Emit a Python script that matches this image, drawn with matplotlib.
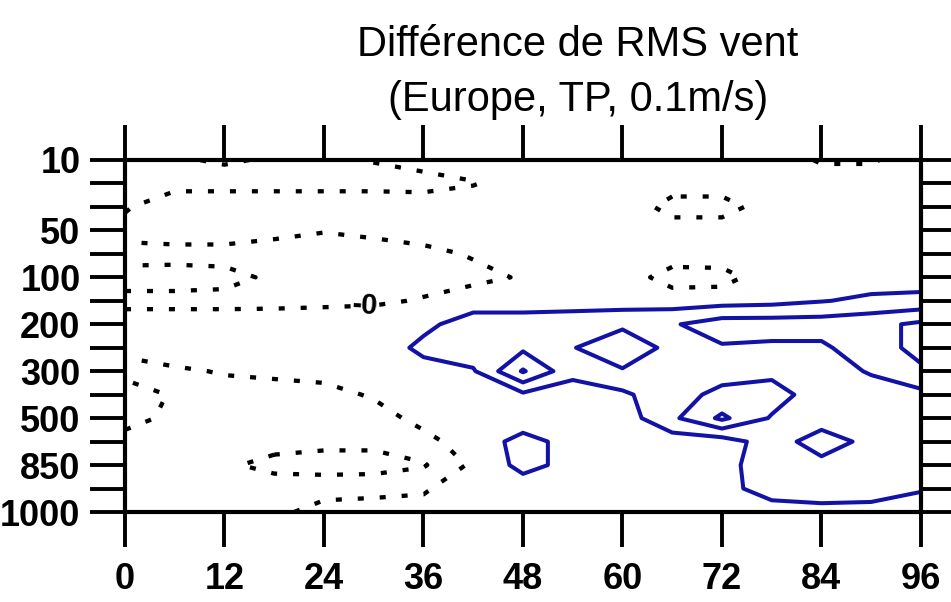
import numpy as np
import matplotlib
matplotlib.use("Agg")
import matplotlib.pyplot as plt

plt.rcParams['font.family'] = ['Liberation Sans', 'DejaVu Sans']

# Forecast lead times (hours) and pressure levels (hPa)
hours = [0, 6, 12, 18, 24, 30, 36, 42, 48, 54, 60, 66, 72, 78, 84, 90, 96]
pressure_levels = [10, 20, 30, 50, 70, 100, 150, 200, 250, 300, 400, 500, 700, 850, 925, 1000]
labelled_levels = [10, 50, 100, 200, 300, 500, 850, 1000]
hour_ticks = [0, 12, 24, 36, 48, 60, 72, 84, 96]

# RMS wind difference (units of 0.1 m/s): one row per pressure level, one column per lead time
p10 = [-0.6, -0.6, -0.4, -0.6, -0.7, -0.45, -0.2, -0.1, 0.0, 0.0, 0.0, 0.0, 0.0, 0.0, -0.6, -0.6, 0.0]
p20 = [-0.7, -0.8, -0.9, -0.9, -0.9, -0.9, -0.8, -0.55, -0.1, 0.0, 0.1, 0.0, 0.0, 0.1, 0.0, 0.0, 0.1]
p30 = [-0.6, 0.1, 0.3, 0.3, 0.3, 0.3, 0.0, 0.0, 0.2, 0.1, 0.2, -0.9, -0.9, 0.0, 0.1, 0.1, 0.1]
p50 = [-0.2, 0.1, 0.1, -0.2, -0.45, -0.3, 0.0, 0.2, 0.2, 0.2, 0.2, 0.0, 0.0, 0.1, 0.1, 0.1, 0.1]
p70 = [-0.8, -0.9, -0.9, -1.0, -1.0, -0.9, -0.8, -0.4, 0.0, 0.1, 0.1, 0.0, 0.1, 0.1, 0.1, 0.1, 0.0]
p100 = [-2.2, -2.2, -2.0, -1.2, -1.1, -1.0, -1.0, -0.8, -0.4, 0.0, 0.0, -0.9, -0.9, 0.1, 0.1, 0.0, 0.0]
p150 = [-1.0, -1.0, -1.0, -0.9, -0.8, -0.7, -0.4, 0.1, 0.0, 0.1, 0.0, 0.0, 0.1, 0.2, 0.45, 0.7, 0.8]
p200 = [0.4, 0.4, 0.4, 0.3, 0.3, 0.3, 0.3, 0.9, 1.0, 1.0, 1.3, 1.4, 2.0, 2.0, 2.0, 2.2, 2.7]
p250 = [0.0, 0.3, 0.3, 0.3, 0.3, 0.0, 0.7, 1.1, 1.3, 1.45, 2.2, 1.2, 1.4, 1.3, 1.3, 2.2, 2.7]
p300 = [-1.2, -0.7, -0.4, -0.3, -0.2, 0.0, 0.2, 0.4, 2.6, 0.8, 1.4, 1.0, 1.2, 1.2, 1.0, 1.6, 2.4]
p400 = [-2.0, -1.4, -1.0, -0.9, -0.8, -0.4, 0.0, 0.0, 0.3, 0.0, 0.3, 1.2, 1.7, 2.0, 0.9, 1.0, 1.2]
p500 = [-1.8, -1.3, -1.0, -0.9, -0.8, -0.9, -0.2, -0.1, 0.0, 0.0, 0.0, 1.3, 2.7, 1.4, 1.0, 0.9, 0.9]
p700 = [-1.2, -1.0, -1.3, -1.0, -1.2, -1.2, -0.8, 0.0, 0.8, 0.2, 0.0, 0.0, 0.0, 1.0, 2.0, 1.2, 0.8]
p850 = [-1.0, -1.0, -1.3, -1.9, -2.0, -2.0, -1.6, -0.3, 0.8, 0.2, 0.0, 0.0, 0.2, 1.0, 1.2, 1.0, 0.8]
p925 = [-0.8, -0.8, -0.8, -0.8, -0.8, -0.7, -0.6, 0.0, 0.0, 0.0, 0.0, 0.0, 0.2, 0.9, 1.0, 0.9, 0.55]
p1000 = [-0.8, -0.8, -0.7, -0.7, -0.2, -0.2, -0.2, 0.1, 0.0, 0.0, 0.0, 0.0, 0.0, 0.1, 0.2, 0.2, 0.2]

negative_levels = [-1.5, -0.5]
labelled_negative_level = -0.5
positive_levels = [0.5, 1.5, 2.5]

field = np.array([p10, p20, p30, p50, p70, p100, p150, p200, p250,
                  p300, p400, p500, p700, p850, p925, p1000])
level_index = np.arange(len(pressure_levels))

fig = plt.figure(figsize=(9.51, 6.02), dpi=100)
ax = fig.add_axes([0.13144, 0.14950, 0.83701, 0.58472])

blue = '#1212a6'
dotted = (0, (1.4, 3.7))

ax.contour(hours, level_index, field, levels=positive_levels,
           colors=blue, linewidths=2.9)

neg_sets = []
for lev in negative_levels:
    cs = ax.contour(hours, level_index, field, levels=[lev],
                    colors='black', linewidths=3.1)
    neg_sets.append((lev, cs))

for lev, cs in neg_sets:
    if lev == labelled_negative_level:
        ax.clabel(cs, fmt='%.0f', manual=[(29, 6.2)], inline=True,
                  inline_spacing=1, fontsize=21, colors='black')
        for t in cs.labelTexts:
            t.set_fontweight('bold')
    cs.set_linestyle(dotted)
    cs.set_capstyle('butt')

ax.set_xlim(0, 96)
ax.set_ylim(len(pressure_levels) - 1, 0)

ax.set_xticks(hour_ticks)
ax.set_xticklabels([str(h) for h in hour_ticks])
ax.set_yticks(level_index)
ax.set_yticklabels([str(p) if p in labelled_levels else '' for p in pressure_levels])

ax.tick_params(axis='both', which='major', direction='out', length=25, width=2.8,
               top=True, right=True, labeltop=False, labelright=False,
               labelsize=26, colors='black')
ax.tick_params(axis='x', pad=11)
ax.tick_params(axis='y', pad=7)
for lbl in ax.get_xticklabels() + ax.get_yticklabels():
    lbl.set_fontweight('bold')

for side in ['left', 'right', 'top', 'bottom']:
    ax.spines[side].set_linewidth(3.0)

fig.text(0.6078, 1 - 56 / 602, 'Différence de RMS vent', ha='center', va='baseline',
         fontsize=30, family=['Liberation Sans', 'DejaVu Sans'])
fig.text(0.6078, 1 - 111 / 602, '(Europe, TP, 0.1m/s)', ha='center', va='baseline',
         fontsize=30, family=['Liberation Sans', 'DejaVu Sans'])

fig.savefig('out.png', dpi=100, facecolor='white')
